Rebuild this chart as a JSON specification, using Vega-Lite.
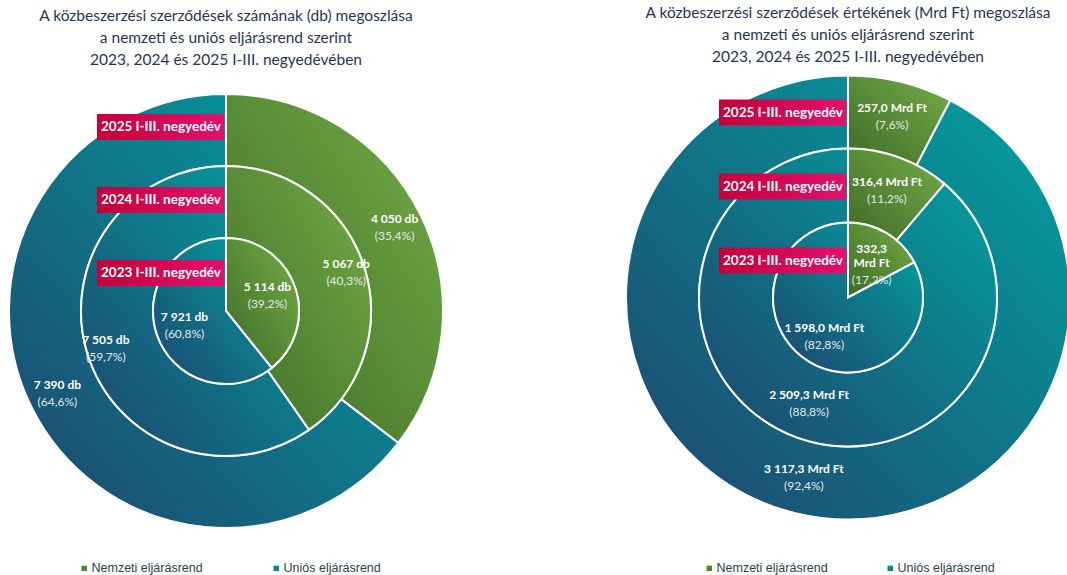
{
  "$schema": "https://vega.github.io/schema/vega-lite/v6.json",
  "background": "white",
  "padding": {"left": 5, "top": 6, "right": 5, "bottom": 5},
  "spacing": 175,
  "config": {
    "view": {"stroke": null},
    "font": "Lato",
    "legend": {
      "title": null,
      "symbolType": "square", "symbolSize": 30, "symbolStrokeWidth": 0,
      "labelFont": "Liberation Sans", "labelFontSize": 12.5, "labelColor": "#2b3f52",
      "labelOffset": 1
    }
  },
  "resolve": {"scale": {"color": "independent"}, "legend": {"color": "independent"}},
  "datasets": {
    "db": [
      {"ring": "2023 I-III. negyedév", "ri": 1, "cat": "Nemzeti eljárásrend", "value": 5114, "lab": "5 114 db", "pct": "(39,2%)"},
      {"ring": "2023 I-III. negyedév", "ri": 1, "cat": "Uniós eljárásrend", "value": 7921, "lab": "7 921 db", "pct": "(60,8%)"},
      {"ring": "2024 I-III. negyedév", "ri": 2, "cat": "Nemzeti eljárásrend", "value": 5067, "lab": "5 067 db", "pct": "(40,3%)"},
      {"ring": "2024 I-III. negyedév", "ri": 2, "cat": "Uniós eljárásrend", "value": 7505, "lab": "7 505 db", "pct": "(59,7%)"},
      {"ring": "2025 I-III. negyedév", "ri": 3, "cat": "Nemzeti eljárásrend", "value": 4050, "lab": "4 050 db", "pct": "(35,4%)"},
      {"ring": "2025 I-III. negyedév", "ri": 3, "cat": "Uniós eljárásrend", "value": 7390, "lab": "7 390 db", "pct": "(64,6%)"}
    ],
    "ft": [
      {"ring": "2023 I-III. negyedév", "ri": 1, "cat": "Nemzeti eljárásrend", "value": 332.3, "lab": ["332,3", "Mrd Ft"], "pct": ["", "(17,2%)"]},
      {"ring": "2023 I-III. negyedév", "ri": 1, "cat": "Uniós eljárásrend", "value": 1598.0, "lab": "1 598,0  Mrd Ft", "pct": "(82,8%)"},
      {"ring": "2024 I-III. negyedév", "ri": 2, "cat": "Nemzeti eljárásrend", "value": 316.4, "lab": "316,4 Mrd Ft", "pct": "(11,2%)"},
      {"ring": "2024 I-III. negyedév", "ri": 2, "cat": "Uniós eljárásrend", "value": 2509.3, "lab": "2 509,3 Mrd Ft", "pct": "(88,8%)"},
      {"ring": "2025 I-III. negyedév", "ri": 3, "cat": "Nemzeti eljárásrend", "value": 257.0, "lab": "257,0 Mrd Ft", "pct": "(7,6%)"},
      {"ring": "2025 I-III. negyedév", "ri": 3, "cat": "Uniós eljárásrend", "value": 3117.3, "lab": "3 117,3 Mrd Ft", "pct": "(92,4%)"}
    ]
  },
  "hconcat": [
    {
      "width": 438, "height": 462,
      "data": {"name": "db"},
      "title": {"text": ["A közbeszerzési szerződések számának (db) megoszlása", "a nemzeti és uniós eljárásrend szerint", "2023, 2024 és 2025 I-III. negyedévében"], "font": "Lato", "fontSize": 15.5, "fontWeight": "normal", "color": "#1f3658", "lineHeight": 22, "offset": 12, "anchor": "middle"},
      "encoding": {
        "theta": {"field": "value", "type": "quantitative", "stack": "normalize"},
        "order": {"field": "cat", "sort": "ascending"},
        "detail": {"field": "cat"}
      },
      "layer": [
        {"transform": [{"filter": "datum.ri == 3"}], "mark": {"type": "arc", "radius": 217, "radius2": 145, "stroke": "white", "strokeWidth": 2},
         "encoding": {"fill": {"condition": {"test": "datum.cat == 'Nemzeti eljárásrend'", "value": {"gradient": "linear", "x1": 0, "y1": 1, "x2": 1, "y2": 0, "stops": [{"offset": 0, "color": "#3e6a26"}, {"offset": 1, "color": "#74ae47"}]}}, "value": {"gradient": "linear", "x1": 0, "y1": 1, "x2": 1, "y2": 0, "stops": [{"offset": 0, "color": "#1e446e"}, {"offset": 1, "color": "#02a4a2"}]}}}},
        {"transform": [{"filter": "datum.ri == 2"}], "mark": {"type": "arc", "radius": 145, "radius2": 73, "stroke": "white", "strokeWidth": 2},
         "encoding": {"fill": {"condition": {"test": "datum.cat == 'Nemzeti eljárásrend'", "value": {"gradient": "linear", "x1": 0, "y1": 1, "x2": 1, "y2": 0, "stops": [{"offset": 0, "color": "#3e6a26"}, {"offset": 1, "color": "#74ae47"}]}}, "value": {"gradient": "linear", "x1": 0, "y1": 1, "x2": 1, "y2": 0, "stops": [{"offset": 0, "color": "#1e446e"}, {"offset": 1, "color": "#02a4a2"}]}}}},
        {"transform": [{"filter": "datum.ri == 1"}], "mark": {"type": "arc", "radius": 73, "radius2": 0, "stroke": "white", "strokeWidth": 2},
         "encoding": {"fill": {"condition": {"test": "datum.cat == 'Nemzeti eljárásrend'", "value": {"gradient": "linear", "x1": 0, "y1": 1, "x2": 1, "y2": 0, "stops": [{"offset": 0, "color": "#3e6a26"}, {"offset": 1, "color": "#74ae47"}]}}, "value": {"gradient": "linear", "x1": 0, "y1": 1, "x2": 1, "y2": 0, "stops": [{"offset": 0, "color": "#1e446e"}, {"offset": 1, "color": "#02a4a2"}]}}}},
        {"transform": [{"filter": "datum.ri == 3"}], "mark": {"type": "arc", "radius": 0, "radius2": 0},
         "encoding": {"color": {"field": "cat", "type": "nominal", "scale": {"domain": ["Nemzeti eljárásrend", "Uniós eljárásrend"], "range": ["#4f8a30", "#0f8790"]}, "legend": {"orient": "none", "legendX": 71, "legendY": 482, "direction": "horizontal", "columnPadding": 67}}}},
        {"transform": [{"filter": "datum.ri == 3"}], "mark": {"type": "text", "radius": 188, "baseline": "bottom", "dy": -2, "font": "Lato", "fontWeight": "bold", "fontSize": 12, "fill": "white", "lineHeight": 14}, "encoding": {"text": {"field": "lab"}}},
        {"transform": [{"filter": "datum.ri == 3"}], "mark": {"type": "text", "radius": 188, "baseline": "top", "dy": 3, "font": "Lato", "fontSize": 12, "fill": "#e3e8ea", "lineHeight": 14}, "encoding": {"text": {"field": "pct"}}},
        {"transform": [{"filter": "datum.ri == 2"}], "mark": {"type": "text", "radius": 126, "baseline": "bottom", "dy": -2, "font": "Lato", "fontWeight": "bold", "fontSize": 12, "fill": "white", "lineHeight": 14}, "encoding": {"text": {"field": "lab"}}},
        {"transform": [{"filter": "datum.ri == 2"}], "mark": {"type": "text", "radius": 126, "baseline": "top", "dy": 3, "font": "Lato", "fontSize": 12, "fill": "#e3e8ea", "lineHeight": 14}, "encoding": {"text": {"field": "pct"}}},
        {"transform": [{"filter": "datum.ri == 1"}], "mark": {"type": "text", "radius": 44, "baseline": "bottom", "dy": -2, "font": "Lato", "fontWeight": "bold", "fontSize": 12, "fill": "white", "lineHeight": 14}, "encoding": {"text": {"field": "lab"}}},
        {"transform": [{"filter": "datum.ri == 1"}], "mark": {"type": "text", "radius": 44, "baseline": "top", "dy": 3, "font": "Lato", "fontSize": 12, "fill": "#e3e8ea", "lineHeight": 14}, "encoding": {"text": {"field": "pct"}}},
        {"transform": [{"filter": "datum.cat == 'Nemzeti eljárásrend'"}],
         "mark": {"type": "bar", "height": 26, "fill": {"gradient": "linear", "x1": 0, "y1": 0, "x2": 1, "y2": 0, "stops": [{"offset": 0, "color": "#c4003a"}, {"offset": 1, "color": "#e2116c"}]}},
         "encoding": {
           "theta": null, "order": null, "detail": null,
           "y": {"field": "ri", "type": "ordinal", "scale": {"type": "point", "domain": [3, 2, 1], "range": [47, 193], "padding": 0}, "axis": null},
           "x": {"datum": -129, "type": "quantitative", "scale": {"domain": [-219, 219], "nice": false, "zero": false}, "axis": null},
           "x2": {"datum": -2}
         }},
        {"transform": [{"filter": "datum.cat == 'Nemzeti eljárásrend'"}],
         "mark": {"type": "text", "align": "right", "baseline": "middle", "font": "Lato", "fontWeight": "bold", "fontSize": 13.5, "fill": "white"},
         "encoding": {
           "theta": null, "order": null, "detail": null,
           "y": {"field": "ri", "type": "ordinal", "scale": {"type": "point", "domain": [3, 2, 1], "range": [47, 193], "padding": 0}, "axis": null},
           "x": {"datum": -5, "type": "quantitative", "scale": {"domain": [-219, 219], "nice": false, "zero": false}, "axis": null},
           "text": {"field": "ring"}
         }}
      ]
    },
    {
      "width": 444, "height": 435,
      "data": {"name": "ft"},
      "title": {"text": ["A közbeszerzési szerződések értékének (Mrd Ft) megoszlása", "a nemzeti és uniós eljárásrend szerint", "2023, 2024 és 2025 I-III. negyedévében"], "font": "Lato", "fontSize": 15.5, "fontWeight": "normal", "color": "#1f3658", "lineHeight": 22, "offset": 6, "anchor": "middle"},
      "encoding": {
        "theta": {"field": "value", "type": "quantitative", "stack": "normalize"},
        "order": {"field": "cat", "sort": "ascending"},
        "detail": {"field": "cat"}
      },
      "layer": [
        {"transform": [{"filter": "datum.ri == 3"}], "mark": {"type": "arc", "radius": 222, "radius2": 149, "stroke": "white", "strokeWidth": 2},
         "encoding": {"fill": {"condition": {"test": "datum.cat == 'Nemzeti eljárásrend'", "value": {"gradient": "linear", "x1": 0, "y1": 1, "x2": 1, "y2": 0, "stops": [{"offset": 0, "color": "#3e6a26"}, {"offset": 1, "color": "#74ae47"}]}}, "value": {"gradient": "linear", "x1": 0, "y1": 1, "x2": 1, "y2": 0, "stops": [{"offset": 0, "color": "#1e446e"}, {"offset": 1, "color": "#02a4a2"}]}}}},
        {"transform": [{"filter": "datum.ri == 2"}], "mark": {"type": "arc", "radius": 149, "radius2": 75, "stroke": "white", "strokeWidth": 2},
         "encoding": {"fill": {"condition": {"test": "datum.cat == 'Nemzeti eljárásrend'", "value": {"gradient": "linear", "x1": 0, "y1": 1, "x2": 1, "y2": 0, "stops": [{"offset": 0, "color": "#3e6a26"}, {"offset": 1, "color": "#74ae47"}]}}, "value": {"gradient": "linear", "x1": 0, "y1": 1, "x2": 1, "y2": 0, "stops": [{"offset": 0, "color": "#1e446e"}, {"offset": 1, "color": "#02a4a2"}]}}}},
        {"transform": [{"filter": "datum.ri == 1"}], "mark": {"type": "arc", "radius": 75, "radius2": 0, "stroke": "white", "strokeWidth": 2},
         "encoding": {"fill": {"condition": {"test": "datum.cat == 'Nemzeti eljárásrend'", "value": {"gradient": "linear", "x1": 0, "y1": 1, "x2": 1, "y2": 0, "stops": [{"offset": 0, "color": "#3e6a26"}, {"offset": 1, "color": "#74ae47"}]}}, "value": {"gradient": "linear", "x1": 0, "y1": 1, "x2": 1, "y2": 0, "stops": [{"offset": 0, "color": "#1e446e"}, {"offset": 1, "color": "#02a4a2"}]}}}},
        {"transform": [{"filter": "datum.ri == 3"}], "mark": {"type": "arc", "radius": 0, "radius2": 0},
         "encoding": {"color": {"field": "cat", "type": "nominal", "scale": {"domain": ["Nemzeti eljárásrend", "Uniós eljárásrend"], "range": ["#4f8a30", "#0f8790"]}, "legend": {"orient": "none", "legendX": 77, "legendY": 482, "direction": "horizontal", "columnPadding": 56}}}},
        {"transform": [{"filter": "datum.ri == 3"}], "mark": {"type": "text", "radius": 186, "baseline": "bottom", "dy": -2, "font": "Lato", "fontWeight": "bold", "fontSize": 12, "fill": "white", "lineHeight": 14}, "encoding": {"text": {"field": "lab"}}},
        {"transform": [{"filter": "datum.ri == 3"}], "mark": {"type": "text", "radius": 186, "baseline": "top", "dy": 3, "font": "Lato", "fontSize": 12, "fill": "#e3e8ea", "lineHeight": 14}, "encoding": {"text": {"field": "pct"}}},
        {"transform": [{"filter": "datum.ri == 2"}], "mark": {"type": "text", "radius": 113, "baseline": "bottom", "dy": -2, "font": "Lato", "fontWeight": "bold", "fontSize": 12, "fill": "white", "lineHeight": 14}, "encoding": {"text": {"field": "lab"}}},
        {"transform": [{"filter": "datum.ri == 2"}], "mark": {"type": "text", "radius": 113, "baseline": "top", "dy": 3, "font": "Lato", "fontSize": 12, "fill": "#e3e8ea", "lineHeight": 14}, "encoding": {"text": {"field": "pct"}}},
        {"transform": [{"filter": "datum.ri == 1"}], "mark": {"type": "text", "radius": 46, "baseline": "bottom", "dy": -2, "font": "Lato", "fontWeight": "bold", "fontSize": 12, "fill": "white", "lineHeight": 14}, "encoding": {"text": {"field": "lab"}}},
        {"transform": [{"filter": "datum.ri == 1"}], "mark": {"type": "text", "radius": 46, "baseline": "top", "dy": 3, "font": "Lato", "fontSize": 12, "fill": "#e3e8ea", "lineHeight": 14}, "encoding": {"text": {"field": "pct"}}},
        {"transform": [{"filter": "datum.cat == 'Nemzeti eljárásrend'"}],
         "mark": {"type": "bar", "height": 26, "fill": {"gradient": "linear", "x1": 0, "y1": 0, "x2": 1, "y2": 0, "stops": [{"offset": 0, "color": "#c4003a"}, {"offset": 1, "color": "#e2116c"}]}},
         "encoding": {
           "theta": null, "order": null, "detail": null,
           "y": {"field": "ri", "type": "ordinal", "scale": {"type": "point", "domain": [3, 2, 1], "range": [32.5, 180.5], "padding": 0}, "axis": null},
           "x": {"datum": -129, "type": "quantitative", "scale": {"domain": [-222, 222], "nice": false, "zero": false}, "axis": null},
           "x2": {"datum": -2}
         }},
        {"transform": [{"filter": "datum.cat == 'Nemzeti eljárásrend'"}],
         "mark": {"type": "text", "align": "right", "baseline": "middle", "font": "Lato", "fontWeight": "bold", "fontSize": 13.5, "fill": "white"},
         "encoding": {
           "theta": null, "order": null, "detail": null,
           "y": {"field": "ri", "type": "ordinal", "scale": {"type": "point", "domain": [3, 2, 1], "range": [32.5, 180.5], "padding": 0}, "axis": null},
           "x": {"datum": -5, "type": "quantitative", "scale": {"domain": [-222, 222], "nice": false, "zero": false}, "axis": null},
           "text": {"field": "ring"}
         }}
      ]
    }
  ]
}
